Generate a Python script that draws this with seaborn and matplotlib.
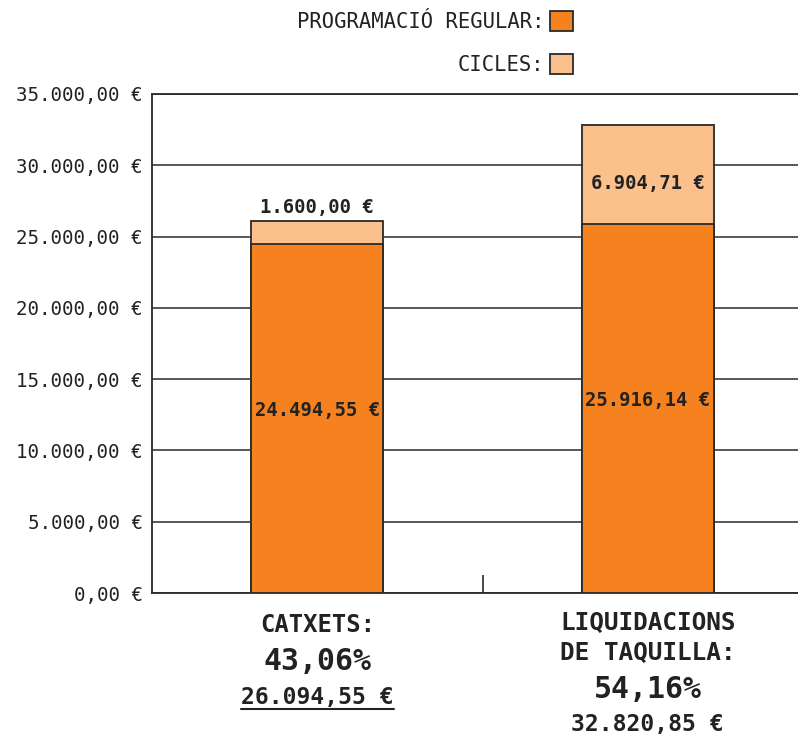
import pandas as pd
import numpy as np
import matplotlib
matplotlib.use("Agg")
import matplotlib.pyplot as plt
import seaborn as sns
from matplotlib.lines import Line2D
from matplotlib.ticker import FuncFormatter

# Dades
categories = ["CATXETS", "LIQUIDACIONS"]
programacio_regular = [24494.55, 25916.14]
cicles = [1600.00, 6904.71]
percentatges = ["43,06%", "54,16%"]
titols = ["CATXETS:", "LIQUIDACIONS\nDE TAQUILLA:"]

COLOR_REGULAR = "#F5821F"
COLOR_CICLES = "#FBC08C"
VORA = "#2a2a2a"
TEXT = "#222222"


def euros(v):
    s = f"{v:,.2f}"
    s = s.replace(",", "X").replace(".", ",").replace("X", ".")
    return s + " €"


df = pd.DataFrame({
    "categoria": categories,
    "regular": programacio_regular,
    "cicles": cicles,
})
df["total"] = df["regular"] + df["cicles"]

sns.set_style("white")
plt.rcParams["font.family"] = ["DejaVu Sans Mono", "DejaVu Sans"]

W, H = 798, 735
fig = plt.figure(figsize=(W / 100, H / 100), dpi=100)
# eixos: esquerra 152px, base 593px, alt 499px
ax = fig.add_axes([152 / W, (H - 593) / H, 661 / W, 499 / H])

# barres apilades: total (cicles) + regular a sobre
sns.barplot(data=df, x="categoria", y="total", color=COLOR_CICLES, width=0.4,
            edgecolor=VORA, linewidth=1.3, saturation=1, ax=ax, zorder=3)
sns.barplot(data=df, x="categoria", y="regular", color=COLOR_REGULAR, width=0.4,
            edgecolor=VORA, linewidth=1.3, saturation=1, ax=ax, zorder=3)

ax.set_xlim(-0.5, 1.5)
ax.set_ylim(0, 35000)
ax.set_yticks(np.arange(0, 35001, 5000))
ax.yaxis.set_major_formatter(FuncFormatter(lambda v, p: euros(v)))
ax.tick_params(axis="y", left=False, length=0, pad=6.5, labelsize=13.8, labelcolor=TEXT)
ax.set_xticks([0.5])
ax.set_xticklabels([""])
ax.tick_params(axis="x", bottom=True, direction="in", length=13, width=1.2, color=VORA)
ax.set_xlabel("")
ax.set_ylabel("")
ax.grid(axis="y", color=VORA, linewidth=1.1, zorder=0)
ax.set_axisbelow(True)
for side in ["left", "top", "bottom"]:
    ax.spines[side].set_color(VORA)
    ax.spines[side].set_linewidth(1.3)
ax.spines["right"].set_visible(False)

# etiquetes dels valors
for i, row in df.iterrows():
    ax.text(i, row["regular"] / 2 + 150, euros(row["regular"]), ha="center", va="baseline",
            fontsize=13.6, fontweight="bold", color=TEXT, zorder=5)
ax.text(0, df["total"][0] + 300, euros(df["cicles"][0]), ha="center", va="bottom",
        fontsize=13.6, fontweight="bold", color=TEXT, zorder=5)
ax.text(1, df["regular"][1] + df["cicles"][1] / 2, euros(df["cicles"][1]), ha="center",
        va="top", fontsize=13.6, fontweight="bold", color=TEXT, zorder=5)

# etiquetes de categoria a sota
tr = ax.get_xaxis_transform()


def ypx(p):
    return (593 - p) / 499


ax.text(0, ypx(632), titols[0], transform=tr, ha="center", va="baseline",
        fontsize=17.2, fontweight="bold", color=TEXT)
ax.text(0, ypx(670), percentatges[0], transform=tr, ha="center", va="baseline",
        fontsize=21.5, fontweight="bold", color=TEXT)
t_total = ax.text(0, ypx(704), euros(df["total"][0]), transform=tr, ha="center",
                  va="baseline", fontsize=16.6, fontweight="bold", color=TEXT)

ax.text(1, ypx(660), titols[1], transform=tr, ha="center", va="baseline",
        fontsize=17.6, fontweight="bold", color=TEXT, linespacing=1.3)
ax.text(1, ypx(698), percentatges[1], transform=tr, ha="center", va="baseline",
        fontsize=21.5, fontweight="bold", color=TEXT)
ax.text(1, ypx(731), euros(df["total"][1]), transform=tr, ha="center", va="baseline",
        fontsize=16.6, fontweight="bold", color=TEXT)

# subratllat del total de catxets
fig.canvas.draw()
bb = t_total.get_window_extent()
fig.add_artist(Line2D([bb.x0 / W, bb.x1 / W], [(H - 709) / H, (H - 709) / H],
                      transform=fig.transFigure, color=TEXT, linewidth=1.5))

# llegenda
handles = [plt.Rectangle((0, 0), 1, 1, facecolor=COLOR_REGULAR, edgecolor=VORA, linewidth=1.3),
           plt.Rectangle((0, 0), 1, 1, facecolor=COLOR_CICLES, edgecolor=VORA, linewidth=1.3)]
leg = fig.legend(handles, ["PROGRAMACIÓ REGULAR:", "CICLES:"], loc="upper right",
                 bbox_to_anchor=(573 / W, 1 - 11 / H), frameon=False, markerfirst=False,
                 fontsize=14.8, handlelength=1.1, handleheight=1.15, handletextpad=0.3,
                 labelspacing=1.05, borderaxespad=0, borderpad=0)
for t in leg.get_texts():
    t.set_color(TEXT)

fig.savefig("out.png", dpi=100)
